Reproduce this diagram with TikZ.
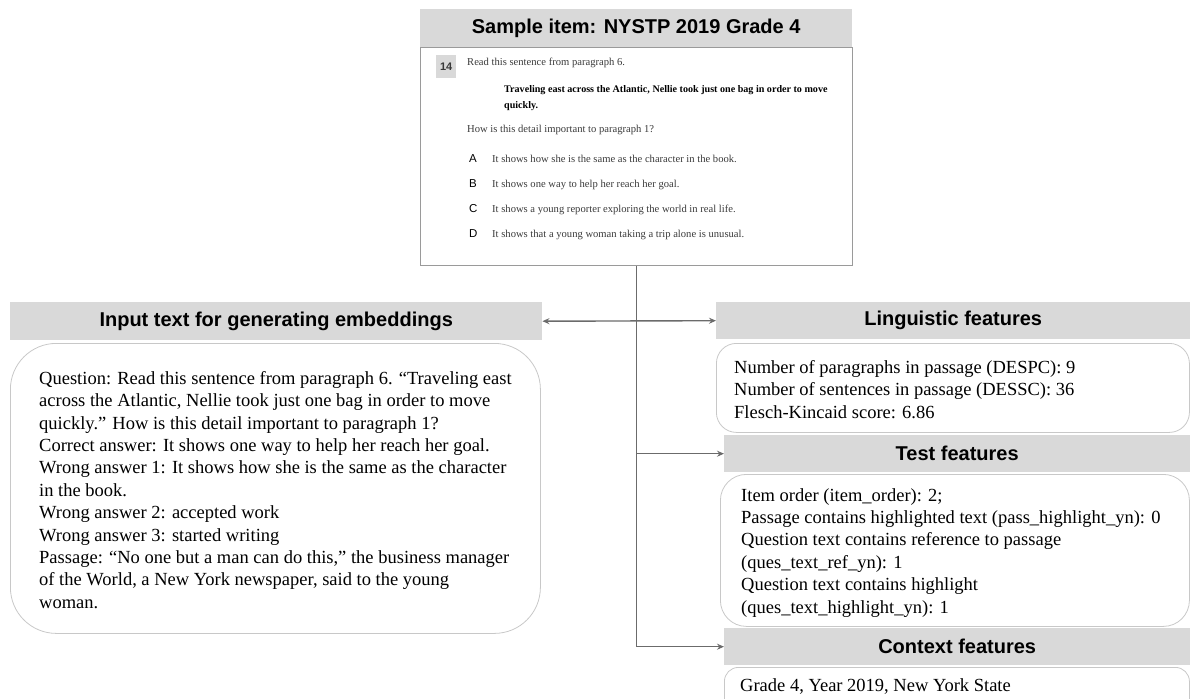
\documentclass[tikz,border=0pt]{standalone}
\usepackage{fontspec}
\setmainfont{Liberation Serif}
\newfontfamily\headfont{Liberation Sans}
\usetikzlibrary{arrows.meta}
\definecolor{headgray}{HTML}{D9D9D9}
\definecolor{cardgray}{HTML}{C8C8C8}
\definecolor{framegray}{HTML}{9A9A9A}
\definecolor{linkgray}{HTML}{6B6B6B}
\definecolor{textgray}{HTML}{3A3A3A}
\begin{document}
\begin{tikzpicture}[x=1pt,y=-1pt,
  >={Stealth[length=7pt,width=6pt]},
  header/.style={fill=headgray,inner sep=0pt,anchor=north west,font=\headfont\bfseries\fontsize{20}{24}\selectfont},
  card/.style={draw=cardgray,line width=0.8pt,rounded corners=#1,inner sep=0pt,anchor=north west},
  body/.style={anchor=north west,inner sep=0pt,align=left,font=\fontsize{18.5}{22.4}\selectfont},
  small/.style={anchor=base west,inner sep=0pt,text=textgray,font=\fontsize{10.6}{12}\selectfont},
  letter/.style={anchor=base west,inner sep=0pt,text=black,font=\headfont\fontsize{11.5}{12}\selectfont},
  conn/.style={draw=linkgray,line width=1.4pt}]
\clip (0,0) rectangle (1190,698);

% sample item
\node[header,minimum width=432,minimum height=38] (samplehead) at (420,9) {Sample item: NYSTP 2019 Grade 4};
\node[draw=framegray,line width=0.8pt,inner sep=0pt,anchor=north west,minimum width=432,minimum height=218] (samplebox) at (420,47) {};
\node[fill=headgray,minimum width=20,minimum height=23,inner sep=0pt,anchor=north west,text=textgray,font=\headfont\bfseries\fontsize{11}{12}\selectfont] (qnum) at (436,55) {14};
\node[small] (qstem) at (467,66) {Read this sentence from paragraph 6.};
\node[small,text=black,font=\bfseries\fontsize{10.1}{12}\selectfont] (qquote) at (504,93) {Traveling east across the Atlantic, Nellie took just one bag in order to move};
\node[small,text=black,font=\bfseries\fontsize{10.1}{12}\selectfont] (qquoteend) at (504,109) {quickly.};
\node[small] (qask) at (467,132) {How is this detail important to paragraph 1?};
\foreach \ltr/\opt [count=\i] in {A/{It shows how she is the same as the character in the book.},
    B/{It shows one way to help her reach her goal.},
    C/{It shows a young reporter exploring the world in real life.},
    D/{It shows that a young woman taking a trip alone is unusual.}}{
  \node[letter] (opt\ltr) at (469,137+25*\i) {\ltr};
  \node[small] (optext\ltr) at (492,137+25*\i) {\opt};
}

% input text
\node[header,minimum width=532,minimum height=38] (inputhead) at (10,302) {Input text for generating embeddings};
\node[card=46,minimum width=530,minimum height=290] (inputbox) at (10,343) {};
\node[body] (inputtext) at ([shift={(29,28)}]inputbox.north west) {Question: Read this sentence from paragraph 6. “Traveling east\\
across the Atlantic, Nellie took just one bag in order to move\\
quickly.” How is this detail important to paragraph 1?\\
Correct answer: It shows one way to help her reach her goal.\\
Wrong answer 1: It shows how she is the same as the character\\
in the book.\\
Wrong answer 2: accepted work\\
Wrong answer 3: started writing\\
Passage: “No one but a man can do this,” the business manager\\
of the World, a New York newspaper, said to the young\\
woman.};

% features
\node[header,minimum width=474,minimum height=37] (linghead) at (716,302) {Linguistic features};
\node[card=20,minimum width=473,minimum height=89] (lingbox) at (716,343) {};
\node[body] (lingtext) at ([shift={(18,17)}]lingbox.north west) {Number of paragraphs in passage (DESPC): 9\\
Number of sentences in passage (DESSC): 36\\
Flesch-Kincaid score: 6.86};

\node[header,minimum width=466,minimum height=37] (testhead) at (724,435) {Test features};
\node[card=26,minimum width=469,minimum height=152] (testbox) at (720,474) {};
\node[body] (testtext) at ([shift={(21,14)}]testbox.north west) {Item order (item\_order): 2;\\
Passage contains highlighted text (pass\_highlight\_yn): 0\\
Question text contains reference to passage\\
(ques\_text\_ref\_yn): 1\\
Question text contains highlight\\
(ques\_text\_highlight\_yn): 1};

\node[header,minimum width=466,minimum height=37] (ctxhead) at (724,628) {Context features};
\node[card=14,minimum width=465,minimum height=60] (ctxbox) at (724,667) {};
\node[body] (ctxtext) at ([shift={(16,11)}]ctxbox.north west) {Grade 4, Year 2019, New York State};

% connectors
\draw[conn,->] (samplebox.south) |- (ctxhead.west);
\draw[conn,->] (samplebox.south |- testhead.west) -- (testhead.west);
\draw[conn,<->] (inputhead.east) -- (linghead.west);
\end{tikzpicture}
\end{document}
